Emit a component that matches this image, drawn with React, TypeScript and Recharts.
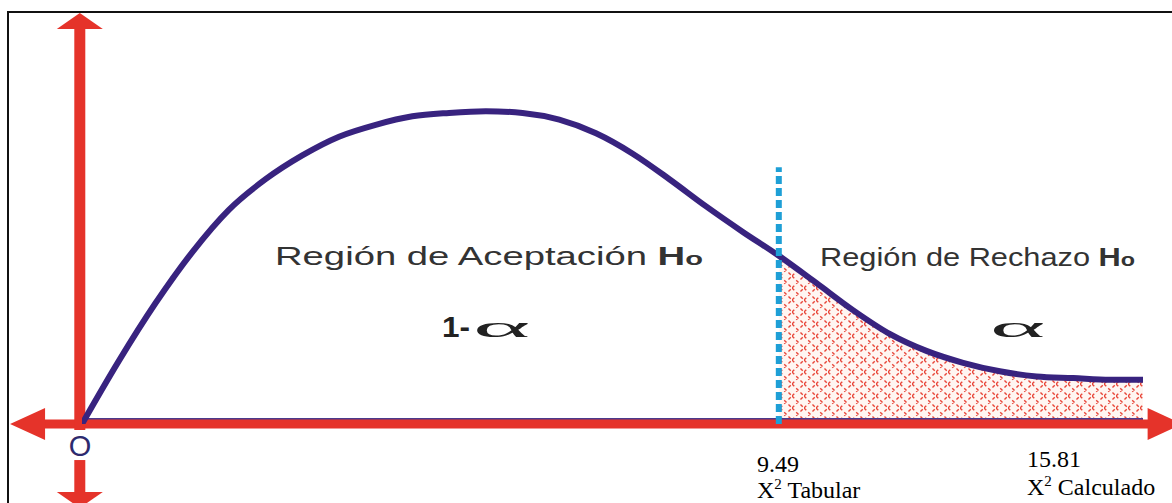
import React from 'react';
import { ComposedChart, Line, Area, XAxis, YAxis, ReferenceLine } from 'recharts';

// chi-square schematic
const xValues = [0, 0.5, 1, 1.5, 2, 2.5, 3, 3.5, 4, 4.5, 5, 5.5, 6, 6.5, 7, 7.5, 8, 8.5, 9, 9.49, 10, 10.5, 11, 11.5, 12, 12.5, 13, 13.5, 14, 14.45];
const densityValues = [0, 0.037, 0.071, 0.101, 0.126, 0.144, 0.158, 0.169, 0.176, 0.181, 0.183, 0.184, 0.183, 0.179, 0.171, 0.159, 0.144, 0.128, 0.113, 0.099, 0.083, 0.067, 0.053, 0.043, 0.036, 0.031, 0.028, 0.027, 0.026, 0.026];
const criticalValue = 9.49;
const criticalLabel = '9.49';
const computedLabel = '15.81';

const data = xValues.map((x, i) => ({
  x,
  density: densityValues[i],
  rejection: x >= criticalValue ? densityValues[i] : null,
}));

const RED = '#e5332a';
const CURVE = '#38237f';
const DASH = '#1e9fd6';

// arrow drawn along a reference segment, heads at 'start', 'end' or both
const Arrow = ({ x1, y1, x2, y2, shaft, headLen, headHalf, heads = 'both' }: any) => {
  if ([x1, y1, x2, y2].some((v) => v == null || isNaN(v))) return null;
  const len = Math.hypot(x2 - x1, y2 - y1) || 1;
  const dx = (x2 - x1) / len;
  const dy = (y2 - y1) / len;
  const nx = -dy;
  const ny = dx;
  const atStart = heads === 'both' || heads === 'start';
  const atEnd = heads === 'both' || heads === 'end';
  const head = (tx: number, ty: number, s: number) => {
    const bx = tx - s * dx * headLen;
    const by = ty - s * dy * headLen;
    return `${tx},${ty} ${bx + nx * headHalf},${by + ny * headHalf} ${bx - nx * headHalf},${by - ny * headHalf}`;
  };
  const inset = headLen * 0.8;
  return (
    <g>
      <line
        x1={atStart ? x1 + dx * inset : x1}
        y1={atStart ? y1 + dy * inset : y1}
        x2={atEnd ? x2 - dx * inset : x2}
        y2={atEnd ? y2 - dy * inset : y2}
        stroke={RED}
        strokeWidth={shaft}
      />
      {atEnd && <polygon points={head(x2, y2, 1)} fill={RED} />}
      {atStart && <polygon points={head(x1, y1, -1)} fill={RED} />}
    </g>
  );
};

const sans = '"Liberation Sans", Arial, sans-serif';
const serif = '"Liberation Serif", "Times New Roman", serif';

export default function App() {
  return (
    <div
      style={{
        position: 'absolute',
        left: 0,
        top: 0,
        width: 1172,
        height: 503,
        overflow: 'hidden',
        background: '#fff',
      }}
    >
      <div
        style={{
          position: 'absolute',
          left: 7,
          top: 11,
          width: 1250,
          height: 600,
          border: '2px solid #111',
        }}
      />
      <div style={{ position: 'absolute', left: 0, top: 0 }}>
        <ComposedChart width={1172} height={503} data={data} margin={{ top: 84, right: 29, bottom: 79, left: 82 }}>
          <defs>
            <pattern id="hatch" width="12" height="12" patternUnits="userSpaceOnUse">
              <rect width="12" height="12" fill="#fff6f2" />
              <path d="M0 12 L12 0 M0 0 L12 12" stroke="#e8473a" strokeWidth={1.4} strokeDasharray="3.2 2.8" />
            </pattern>
          </defs>
          <XAxis type="number" dataKey="x" domain={[0, 14.45]} hide allowDataOverflow />
          <YAxis type="number" domain={[0, 0.2]} hide allowDataOverflow />
          <Area
            type="monotone"
            dataKey="rejection"
            stroke="none"
            fill="url(#hatch)"
            fillOpacity={1}
            isAnimationActive={false}
            dot={false}
            activeDot={false}
          />
          <ReferenceLine
            segment={[{ x: 0, y: 0.0029 }, { x: 14.45, y: 0.0029 }]}
            ifOverflow="visible"
            stroke="#4b3a8c"
            strokeWidth={2}
          />
          <ReferenceLine
            segment={[{ x: -0.98, y: 0 }, { x: 14.99, y: 0 }]}
            ifOverflow="visible"
            shape={(p: any) => <Arrow {...p} shaft={9} headLen={35} headHalf={16} />}
          />
          <ReferenceLine
            segment={[{ x: -0.03, y: -0.0035 }, { x: -0.03, y: 0.2418 }]}
            ifOverflow="visible"
            shape={(p: any) => <Arrow {...p} shaft={11} headLen={16} headHalf={23} heads="end" />}
          />
          <ReferenceLine
            segment={[{ x: -0.03, y: -0.0494 }, { x: -0.03, y: -0.0212 }]}
            ifOverflow="visible"
            shape={(p: any) => <Arrow {...p} shaft={11} headLen={16} headHalf={23} heads="start" />}
          />
          <Line
            type="monotone"
            dataKey="density"
            stroke={CURVE}
            strokeWidth={6}
            dot={false}
            activeDot={false}
            isAnimationActive={false}
          />
          <ReferenceLine
            segment={[{ x: criticalValue, y: 0 }, { x: criticalValue, y: 0.151 }]}
            ifOverflow="visible"
            stroke={DASH}
            strokeWidth={6}
            strokeDasharray="8 4"
          />
          <text x={80} y={456} textAnchor="middle" fontFamily={sans} fontSize={29} fill="#2d2a6e">
            O
          </text>
          <text x={275} y={265} fontFamily={sans} fontSize={25} fill="#333" textLength={428} lengthAdjust="spacingAndGlyphs">
            Región de Aceptación <tspan fontWeight="bold">H</tspan>
            <tspan fontWeight="bold" fontSize={19}>o</tspan>
          </text>
          <text x={820} y={266} fontFamily={sans} fontSize={25} fill="#333" textLength={315} lengthAdjust="spacingAndGlyphs">
            Región de Rechazo <tspan fontWeight="bold">H</tspan>
            <tspan fontWeight="bold" fontSize={19}>o</tspan>
          </text>
          <text x={442} y={337} fontFamily={sans} fontSize={29} fontWeight="bold" fill="#222" textLength={28} lengthAdjust="spacingAndGlyphs">
            1-
          </text>
          <text x={473} y={337} fontFamily={serif} fontSize={30} fill="#222" textLength={57} lengthAdjust="spacingAndGlyphs">
            α
          </text>
          <text x={990} y={337} fontFamily={serif} fontSize={30} fill="#222" textLength={55} lengthAdjust="spacingAndGlyphs">
            α
          </text>
          <text x={757} y={472} fontFamily={serif} fontSize={24} fill="#000">
            {criticalLabel}
          </text>
          <text x={757} y={498} fontFamily={serif} fontSize={24} fill="#000">
            X<tspan fontSize={15} dy={-9}>2</tspan>
            <tspan dy={9}> Tabular</tspan>
          </text>
          <text x={1027} y={467} fontFamily={serif} fontSize={24} fill="#000">
            {computedLabel}
          </text>
          <text x={1027} y={495} fontFamily={serif} fontSize={24} fill="#000">
            X<tspan fontSize={15} dy={-9}>2</tspan>
            <tspan dy={9}> Calculado</tspan>
          </text>
        </ComposedChart>
      </div>
    </div>
  );
}
